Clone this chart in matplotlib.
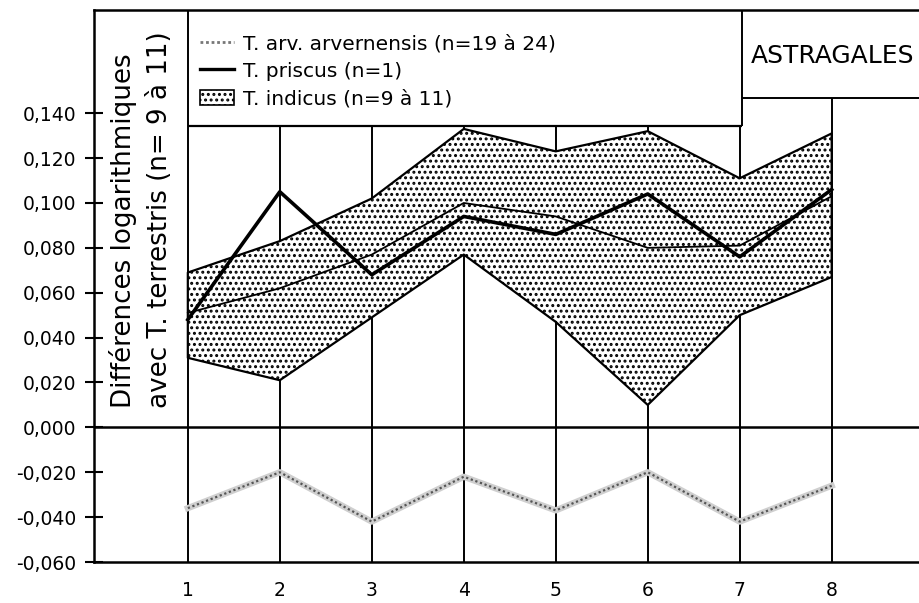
import matplotlib.pyplot as plt
from matplotlib.lines import Line2D
from matplotlib.patches import Patch
from matplotlib.ticker import FuncFormatter

plt.rcParams['hatch.linewidth'] = 1.4
plt.rcParams['font.family'] = ['DejaVu Sans']

# valeurs
mesures = [1, 2, 3, 4, 5, 6, 7, 8]
indicus_max = [0.069, 0.083, 0.102, 0.133, 0.123, 0.132, 0.111, 0.131]
indicus_min = [0.031, 0.021, 0.049, 0.077, 0.047, 0.010, 0.050, 0.067]
indicus_moy = [0.051, 0.062, 0.077, 0.100, 0.094, 0.080, 0.081, 0.103]
priscus = [0.048, 0.105, 0.068, 0.094, 0.086, 0.104, 0.076, 0.106]
arvernensis = [-0.036, -0.020, -0.042, -0.022, -0.037, -0.020, -0.042, -0.026]
y_ticks = [-0.06, -0.04, -0.02, 0.0, 0.02, 0.04, 0.06, 0.08, 0.10, 0.12, 0.14]

labels = ['T. arv. arvernensis (n=19 à 24)', 'T. priscus (n=1)', 'T. indicus (n=9 à 11)']

fig = plt.figure(figsize=(9.2, 6.03), dpi=100)
ax = fig.add_axes([94 / 920, 41 / 603, 826 / 920, 552 / 603])

x_min, x_max = -0.02, 8.96
y_min, y_max = -0.06, 0.186
ax.set_xlim(x_min, x_max)
ax.set_ylim(y_min, y_max)

leg_bas = 0.1343
astra_bas = 0.1468
leg_droite = 7.02

# zone T. indicus
ax.fill_between(mesures, indicus_min, indicus_max, facecolor='white',
                edgecolor='black', hatch='...', linewidth=1.6, zorder=2)
ax.plot(mesures, indicus_moy, color='black', lw=1.3, zorder=3)
ax.plot(mesures, priscus, color='black', lw=2.6, zorder=4)
ax.plot(mesures, arvernensis, color='#cfcfcf', lw=4.5, zorder=3)
ax.plot(mesures, arvernensis, color='#555555', lw=1.6, ls=(0, (1, 1.2)), zorder=4)

# grille et cadres
ax.vlines(mesures[0], y_min, y_max, color='black', lw=1.4, zorder=1)
ax.vlines(mesures[1:-1], y_min, leg_bas, color='black', lw=1.4, zorder=1)
ax.vlines(mesures[-1], y_min, astra_bas, color='black', lw=1.4, zorder=1)
ax.vlines(leg_droite, leg_bas, y_max, color='black', lw=1.4)
ax.hlines(leg_bas, mesures[0], leg_droite, color='black', lw=1.6)
ax.hlines(astra_bas, leg_droite, x_max, color='black', lw=1.4)
ax.axhline(0, color='black', lw=1.8, zorder=1)

for s in ['left', 'bottom', 'top']:
    ax.spines[s].set_linewidth(1.8)
ax.spines['right'].set_visible(False)

ax.set_yticks(y_ticks)
ax.yaxis.set_major_formatter(FuncFormatter(lambda v, p: f'{v:.3f}'.replace('.', ',')))
ax.tick_params(axis='y', direction='inout', length=13, width=1.5, labelsize=13.5, pad=6)
ax.set_xticks(mesures)
ax.set_xticklabels([str(m) for m in mesures])
ax.tick_params(axis='x', length=0, labelsize=13.5, pad=14)

ax.text(0.293, 0.0087, 'Différences logarithmiques', rotation=90, ha='center',
        va='bottom', fontsize=18.8)
ax.text(0.696, 0.0087, 'avec T. terrestris (n= 9 à 11)', rotation=90, ha='center',
        va='bottom', fontsize=18.8)
ax.text(7.12, 0.1655, 'ASTRAGALES', ha='left', va='center', fontsize=18)

handles = [
    Line2D([], [], color='#777777', lw=2, ls=(0, (1, 1))),
    Line2D([], [], color='black', lw=2.4),
    Patch(facecolor='white', edgecolor='black', hatch='...', lw=1.2),
]
ax.legend(handles, labels, loc='upper left', bbox_to_anchor=(0.128, 0.956),
          frameon=False, fontsize=14.5, handlelength=1.7, handleheight=0.8,
          handletextpad=0.45, labelspacing=0.42, borderpad=0, borderaxespad=0)

fig.savefig('out.png', dpi=100)
